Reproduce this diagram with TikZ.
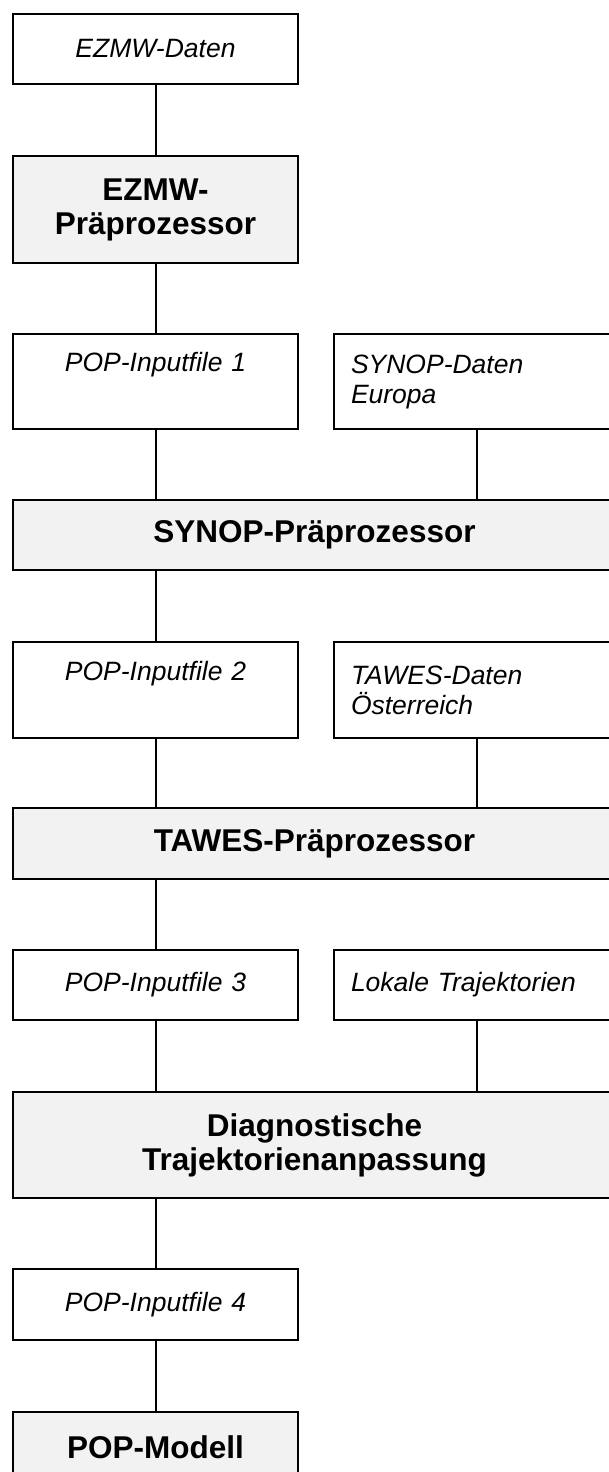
\documentclass[tikz,border=0pt]{standalone}
\usepackage{fontspec}
\setmainfont{Liberation Sans}
\definecolor{boxgray}{RGB}{242,242,242}

\begin{document}
\begin{tikzpicture}[x=1pt, y=-1pt,
    databox/.style={draw, line width=2pt, fill=white, anchor=north west, inner xsep=17pt, inner ysep=0pt,
        font=\fontsize{26.5}{30}\selectfont\itshape},
    probox/.style={draw, line width=2pt, fill=boxgray, anchor=north west, inner xsep=0pt, inner ysep=0pt,
        align=center, font=\fontsize{31.5}{34}\selectfont\bfseries},
    link/.style={line width=2pt}]
    \useasboundingbox (0,0) rectangle (609,1472);
    \clip (0,0) rectangle (609,1472);

    % x positions of the two columns
    \def\xL{12}
    \def\xR{333}

    % ===== EZMW =====
    \node[databox, align=center, text width=251pt, minimum height=70pt] (ezmwDat) at (\xL,13) {EZMW-Daten};
    \node[probox, text width=285pt, minimum height=107pt] (ezmwPre) at (\xL,155) {EZMW-\\Präprozessor};

    % ===== SYNOP =====
    \node[databox, align=center, text width=251pt, minimum height=95pt] (popInA) at (\xL,333) {POP-Inputfile 1\\\strut};
    \node[databox, align=left, text width=252pt, minimum height=95pt] (synDat) at (\xR,333) {SYNOP-Daten\\Europa};
    \node[probox, text width=603pt, minimum height=70pt] (synPre) at (\xL,499) {SYNOP-Präprozessor};

    % ===== TAWES =====
    \node[databox, align=center, text width=251pt, minimum height=96pt] (popInB) at (\xL,641) {POP-Inputfile 2\\\strut};
    \node[databox, align=left, text width=252pt, minimum height=96pt] (tawDat) at (\xR,641) {TAWES-Daten\\Österreich};
    \node[probox, text width=603pt, minimum height=71pt] (tawPre) at (\xL,807) {TAWES-Präprozessor};

    % ===== Trajektorien =====
    \node[databox, align=center, text width=251pt, minimum height=70pt] (popInC) at (\xL,949) {POP-Inputfile 3};
    \node[databox, align=left, text width=252pt, minimum height=70pt] (lokTraj) at (\xR,949) {Lokale Trajektorien};
    \node[probox, text width=603pt, minimum height=106pt] (diagTraj) at (\xL,1091) {Diagnostische\\Trajektorienanpassung};

    % ===== POP =====
    \node[databox, align=center, text width=251pt, minimum height=71pt] (popInD) at (\xL,1268) {POP-Inputfile 4};
    \node[probox, text width=285pt, minimum height=71pt] (popMod) at (\xL,1411) {POP-Modell};

    % Verbindungen
    \draw[link] (ezmwDat.south) -- (ezmwPre.north);
    \draw[link] (ezmwPre.south) -- (popInA.north);
    \draw[link] (popInA.south) -- (popInA.south |- synPre.north);
    \draw[link] (synDat.south) -- (synDat.south |- synPre.north);
    \draw[link] (popInB.north |- synPre.south) -- (popInB.north);
    \draw[link] (popInB.south) -- (popInB.south |- tawPre.north);
    \draw[link] (tawDat.south) -- (tawDat.south |- tawPre.north);
    \draw[link] (popInC.north |- tawPre.south) -- (popInC.north);
    \draw[link] (popInC.south) -- (popInC.south |- diagTraj.north);
    \draw[link] (lokTraj.south) -- (lokTraj.south |- diagTraj.north);
    \draw[link] (popInD.north |- diagTraj.south) -- (popInD.north);
    \draw[link] (popInD.south) -- (popMod.north);
\end{tikzpicture}
\end{document}
